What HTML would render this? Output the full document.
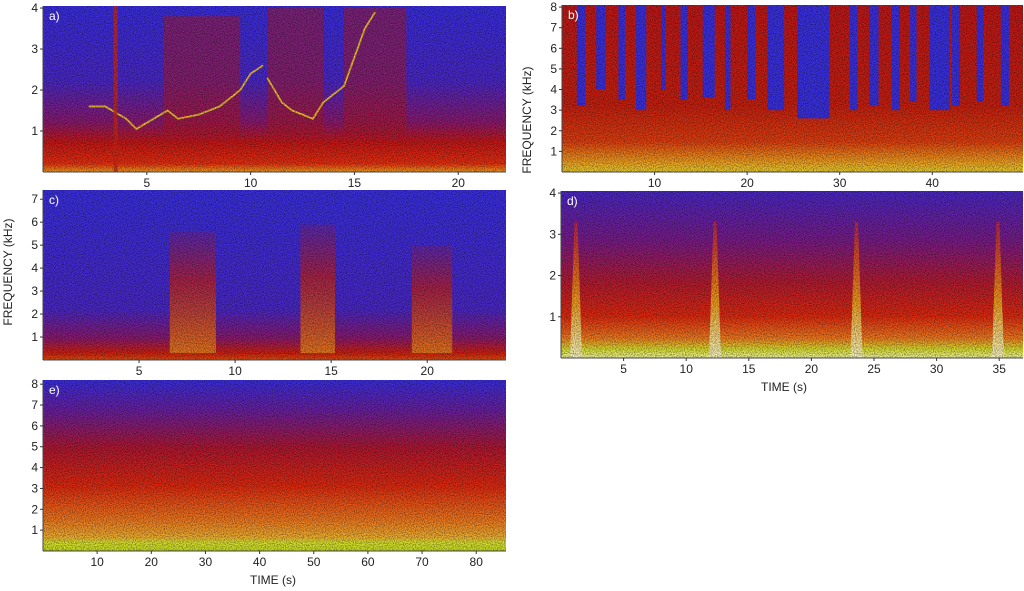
<!DOCTYPE html>
<html><head><meta charset="utf-8"><style>
html,body{margin:0;padding:0;background:#fff;}
svg{display:block;font-family:"Liberation Sans",sans-serif;}
</style></head><body>
<svg id="fig" width="1024" height="591" viewBox="0 0 1024 591" xmlns="http://www.w3.org/2000/svg">
<defs>
<filter id="noise" x="0" y="0" width="100%" height="100%"><feTurbulence type="fractalNoise" baseFrequency="0.9" numOctaves="1" seed="3"/><feColorMatrix type="matrix" values="0 0 0 0 0  0 0 0 0 0  0 0 0 0 0  0 0 0 1.2 -0.45"/></filter>
<linearGradient id="gA" x1="0" y1="0" x2="0" y2="1"><stop offset="0" stop-color="#3a2ee0"/><stop offset="0.45" stop-color="#4a28c8"/><stop offset="0.7" stop-color="#8a1a70"/><stop offset="0.82" stop-color="#c41818"/><stop offset="0.95" stop-color="#e83010"/><stop offset="1" stop-color="#f0a020"/></linearGradient>
<linearGradient id="gB" x1="0" y1="0" x2="0" y2="1"><stop offset="0" stop-color="#c01818"/><stop offset="0.6" stop-color="#c82010"/><stop offset="0.82" stop-color="#e04010"/><stop offset="0.94" stop-color="#f0a020"/><stop offset="1" stop-color="#e8d030"/></linearGradient>
<linearGradient id="gC" x1="0" y1="0" x2="0" y2="1"><stop offset="0" stop-color="#3a30e0"/><stop offset="0.7" stop-color="#4a28c8"/><stop offset="0.87" stop-color="#8a1a70"/><stop offset="0.96" stop-color="#d02010"/><stop offset="1" stop-color="#e05010"/></linearGradient>
<linearGradient id="gD" x1="0" y1="0" x2="0" y2="1"><stop offset="0" stop-color="#4a28c8"/><stop offset="0.3" stop-color="#7a1c88"/><stop offset="0.55" stop-color="#b41c30"/><stop offset="0.75" stop-color="#e02a10"/><stop offset="0.88" stop-color="#f07a20"/><stop offset="0.95" stop-color="#d8e030"/><stop offset="1" stop-color="#f4f4a0"/></linearGradient>
<linearGradient id="gE" x1="0" y1="0" x2="0" y2="1"><stop offset="0" stop-color="#3a2ee0"/><stop offset="0.18" stop-color="#6a20a0"/><stop offset="0.4" stop-color="#b01830"/><stop offset="0.62" stop-color="#e02a10"/><stop offset="0.82" stop-color="#f07a20"/><stop offset="0.92" stop-color="#f0b030"/><stop offset="0.95" stop-color="#d8e030"/><stop offset="1" stop-color="#c8e020"/></linearGradient>
<linearGradient id="gSpike" x1="0" y1="0" x2="0" y2="1"><stop offset="0" stop-color="#e83010" stop-opacity="0.6"/><stop offset="0.6" stop-color="#f0a020"/><stop offset="1" stop-color="#f8f8c0"/></linearGradient>
<linearGradient id="gCall" x1="0" y1="0" x2="0" y2="1"><stop offset="0" stop-color="#c01818" stop-opacity="0.2"/><stop offset="0.4" stop-color="#d02010" stop-opacity="0.7"/><stop offset="1" stop-color="#e88020" stop-opacity="0.9"/></linearGradient>
</defs>
</svg>
<script>
// ---- data ----
const panelIds = ['a','b','c','d','e'];
const panelTMax = [22.3, 49.8, 24.1, 36.9, 85.5];
const panelFMax = [4.05, 8.1, 7.4, 4.05, 8.2];
const panelYTicks = [[1,2,3,4],[1,2,3,4,5,6,7,8],[1,2,3,4,5,6,7],[1,2,3,4],[1,2,3,4,5,6,7,8]];
const panelXTicks = [[5,10,15,20],[10,20,30,40],[5,10,15,20],[5,10,15,20,25,30,35],[10,20,30,40,50,60,70,80]];
// panel b: blue (silent) gaps [start s, end s, lowest freq kHz]
const bGapStart = [1.6,3.7,6.1,8.0,10.7,12.8,15.2,17.6,20.0,22.2,25.4,31.1,33.2,35.6,37.6,39.7,42.1,44.8,47.4];
const bGapEnd   = [2.5,4.7,6.8,9.1,11.2,13.6,16.5,18.2,20.9,24.0,28.9,31.9,34.2,36.5,38.3,41.9,43.0,45.5,48.3];
const bGapLow   = [3.2,4.0,3.5,3.0,4.0,3.5,3.6,3.0,3.5,3.0,2.6,3.0,3.2,3.0,3.4,3.0,3.2,3.4,3.2];
// panel a: whistle contours (time s, freq kHz)
const aWhistle1T = [2.2,3.0,4.0,4.5,5.0,6.0,6.5,7.5,8.5,9.5,10.0,10.6];
const aWhistle1F = [1.6,1.6,1.3,1.05,1.2,1.5,1.3,1.4,1.6,2.0,2.4,2.6];
const aWhistle2T = [10.8,11.5,12.0,13.0,13.5,14.5,15.0,15.5,16.0];
const aWhistle2F = [2.3,1.7,1.5,1.3,1.7,2.1,2.8,3.5,3.9];
// panel a: busy regions (start s, end s, top kHz)
const aBusyStart = [5.8,10.8,14.5];
const aBusyEnd = [9.5,13.5,17.5];
const aBusyTop = [3.8,4.0,4.0];
// panel c: call clusters
const cCallStart = [6.6,13.4,19.2];
const cCallEnd = [9.0,15.2,21.3];
const cCallTop = [5.6,5.9,5.0];
// panel d: impulse times (s)
const dSpikes = [1.2,12.3,23.6,34.9];

// ---- geometry ----
const geom = {
  a:{x:43,y:6,w:463,h:166,grad:'gA'},
  b:{x:562,y:5,w:461,h:167,grad:'gB'},
  c:{x:43,y:190,w:463,h:170,grad:'gC'},
  d:{x:561,y:191,w:462,h:167,grad:'gD'},
  e:{x:43,y:380,w:463,h:171,grad:'gE'}
};
const NS='http://www.w3.org/2000/svg';
const svg=document.getElementById('fig');
function mk(tag,attrs,parent){const e=document.createElementNS(NS,tag);for(const k in attrs)e.setAttribute(k,attrs[k]);(parent||svg).appendChild(e);return e;}

panelIds.forEach((id,i)=>{
  const g=geom[id];
  const xs=t=>g.x+t/panelTMax[i]*g.w;
  const ys=f=>g.y+g.h-f/panelFMax[i]*g.h;
  const grp=mk('g',{});
  
  
  const bg=mk('rect',{x:g.x,y:g.y,width:g.w,height:g.h,fill:'url(#'+g.grad+')'},grp);
  
  
  if(id==='a'){
    aBusyStart.forEach((s,k)=>{
      const r=mk('rect',{x:xs(s),y:ys(aBusyTop[k]),width:xs(aBusyEnd[k])-xs(s),height:ys(0.9)-ys(aBusyTop[k]),fill:'#b01a28',opacity:0.55},grp);
      
      
    });
    [[aWhistle1T,aWhistle1F],[aWhistle2T,aWhistle2F]].forEach(([T,F])=>{
      const p=mk('polyline',{points:T.map((t,k)=>xs(t)+','+ys(F[k])).join(' '),fill:'none',stroke:'#f0c030','stroke-width':1.8},grp);
      
      
    });
    const bar=mk('rect',{x:xs(3.4),y:g.y,width:4,height:g.h,fill:'#d02818',opacity:0.8},grp);
    
    
  }
  if(id==='b'){
    bGapStart.forEach((s,k)=>{
      const r=mk('rect',{x:xs(s),y:g.y,width:xs(bGapEnd[k])-xs(s),height:ys(bGapLow[k])-g.y,fill:'#3a30e0'},grp);
      
      
    });
  }
  if(id==='c'){
    cCallStart.forEach((s,k)=>{
      const r=mk('rect',{x:xs(s),y:ys(cCallTop[k]),width:xs(cCallEnd[k])-xs(s),height:ys(0.3)-ys(cCallTop[k]),fill:'url(#gCall)'},grp);
      
      
    });
  }
  if(id==='d'){
    dSpikes.forEach(t=>{
      const r=mk('polygon',{points:[xs(t)-1.5+','+ys(3.3),xs(t)+1.5+','+ys(3.3),xs(t)+6+','+ys(0),xs(t)-6+','+ys(0)].join(' '),fill:'url(#gSpike)'},grp);
      
      
    });
  }
  mk('rect',{x:g.x,y:g.y,width:g.w,height:g.h,filter:'url(#noise)',fill:'#000'},grp);
  const lab=mk('text',{x:g.x+6,y:g.y+14,fill:'#fff','font-size':12},grp);
  lab.textContent=id+')';
  
  
  mk('line',{x1:g.x,y1:g.y,x2:g.x,y2:g.y+g.h,stroke:'#444','stroke-width':1},grp);
  mk('line',{x1:g.x,y1:g.y+g.h,x2:g.x+g.w,y2:g.y+g.h,stroke:'#444','stroke-width':1},grp);
  panelYTicks[i].forEach(f=>{
    mk('line',{x1:g.x-3,y1:ys(f),x2:g.x,y2:ys(f),stroke:'#333'},grp);
    const t=mk('text',{x:g.x-5,y:ys(f)+4,'text-anchor':'end','font-size':12,fill:'#222'},grp);
    t.textContent=f;
    
    
  });
  panelXTicks[i].forEach(v=>{
    mk('line',{x1:xs(v),y1:g.y+g.h,x2:xs(v),y2:g.y+g.h+3,stroke:'#333'},grp);
    const t=mk('text',{x:xs(v),y:g.y+g.h+15,'text-anchor':'middle','font-size':12,fill:'#222'},grp);
    t.textContent=v;
    
    
  });
});
function axisTitle(txt,x,y,rot,name){
  const t=mk('text',{x:x,y:y,'text-anchor':'middle','font-size':12,fill:'#222',transform:rot?('rotate(-90 '+x+' '+y+')'):''});
  t.textContent=txt;
  
  
}
axisTitle('FREQUENCY (kHz)',12,272,true,'y-axis-title-left');
axisTitle('FREQUENCY (kHz)',531,120,true,'y-axis-title-right');
axisTitle('TIME (s)',784,391,false,'x-axis-title-d');
axisTitle('TIME (s)',273,584,false,'x-axis-title-e');
</script>
</body></html>
